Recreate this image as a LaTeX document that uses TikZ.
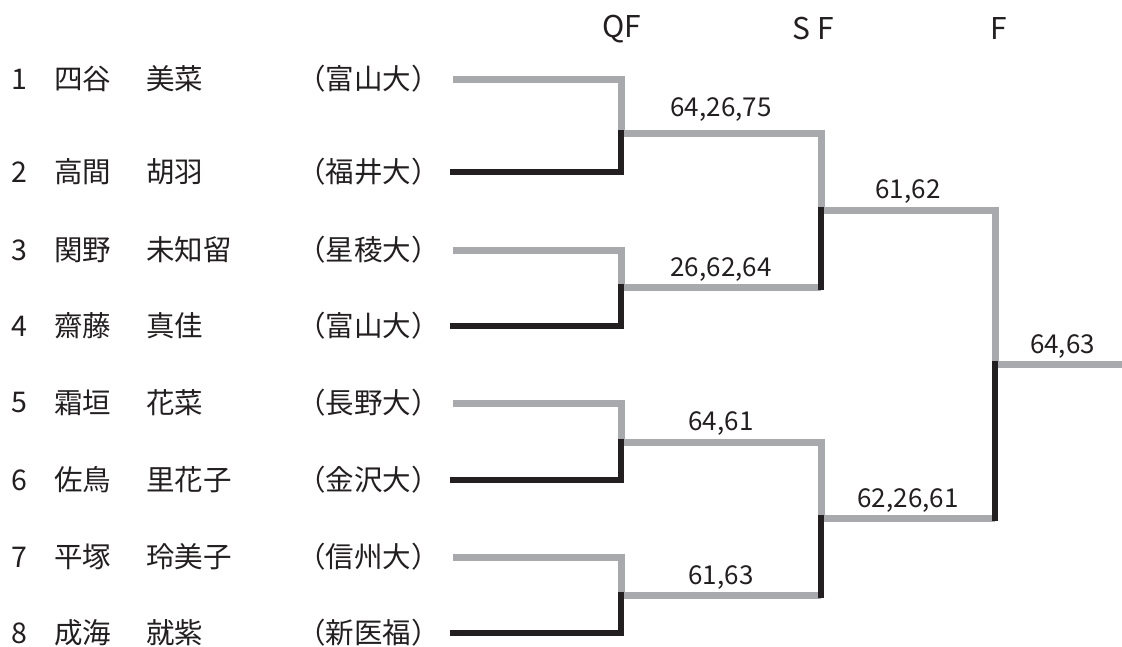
\documentclass[tikz,border=0pt]{standalone}
\usepackage{fontspec}
\setmainfont{Noto Sans CJK JP}
\newfontfamily\scorefont{Noto Sans CJK JP}
\usepackage{tikz}
\definecolor{brgrey}{RGB}{167,169,172}
\definecolor{brblack}{RGB}{35,31,32}
\tikzstyle{winner} = [line width=7pt, color=brgrey]
\tikzstyle{loser} = [line width=6pt, color=brblack, line cap=rect]
\tikzstyle{player} = [inner sep=0pt, text=brblack, font=\fontsize{28.5}{32}\selectfont]
\tikzstyle{score} = [inner sep=0pt, text=brblack, font=\scorefont\fontsize{26}{30}\selectfont]
\tikzstyle{roundlabel} = [inner sep=0pt, text=brblack, font=\fontsize{30}{34}\selectfont]

\begin{document}
\begin{tikzpicture}[x=1pt, y=-1pt]
\useasboundingbox (0,0) rectangle (1122,646);

% Round headings
\node[roundlabel] (hqf) at (622,29) {QF};
\node[roundlabel] (hsf) at (813,29) {S F};
\node[roundlabel] (hf) at (999,29) {F};

% Players
\node[player] (num1) at (19,79) {1};
\node[player, anchor=west] (fam1) at (54,79) {四谷};
\node[player, anchor=west] (giv1) at (146,79) {美菜};
\node[player, anchor=east] (uni1) at (440,79) {（富山大）};

\node[player] (num2) at (19,172) {2};
\node[player, anchor=west] (fam2) at (54,172) {高間};
\node[player, anchor=west] (giv2) at (146,172) {胡羽};
\node[player, anchor=east] (uni2) at (440,172) {（福井大）};

\node[player] (num3) at (19,250) {3};
\node[player, anchor=west] (fam3) at (54,250) {関野};
\node[player, anchor=west] (giv3) at (146,250) {未知留};
\node[player, anchor=east] (uni3) at (440,250) {（星稜大）};

\node[player] (num4) at (19,326) {4};
\node[player, anchor=west] (fam4) at (54,326) {齋藤};
\node[player, anchor=west] (giv4) at (146,326) {真佳};
\node[player, anchor=east] (uni4) at (440,326) {（富山大）};

\node[player] (num5) at (19,403) {5};
\node[player, anchor=west] (fam5) at (54,403) {霜垣};
\node[player, anchor=west] (giv5) at (146,403) {花菜};
\node[player, anchor=east] (uni5) at (440,403) {（長野大）};

\node[player] (num6) at (19,480) {6};
\node[player, anchor=west] (fam6) at (54,480) {佐鳥};
\node[player, anchor=west] (giv6) at (146,480) {里花子};
\node[player, anchor=east] (uni6) at (440,480) {（金沢大）};

\node[player] (num7) at (19,557) {7};
\node[player, anchor=west] (fam7) at (54,557) {平塚};
\node[player, anchor=west] (giv7) at (146,557) {玲美子};
\node[player, anchor=east] (uni7) at (440,557) {（信州大）};

\node[player] (num8) at (19,633) {8};
\node[player, anchor=west] (fam8) at (54,633) {成海};
\node[player, anchor=west] (giv8) at (146,633) {就紫};
\node[player, anchor=east] (uni8) at (440,633) {（新医福）};

% Bracket points
\coordinate (p1) at (453,79);
\coordinate (p2) at (453,172);
\coordinate (p3) at (453,250);
\coordinate (p4) at (453,326);
\coordinate (p5) at (453,403);
\coordinate (p6) at (453,480);
\coordinate (p7) at (453,557);
\coordinate (p8) at (453,633);
\coordinate (qf1) at (621,133);
\coordinate (qf2) at (621,287);
\coordinate (qf3) at (621,442);
\coordinate (qf4) at (621,595);
\coordinate (sf1) at (821,210);
\coordinate (sf2) at (821,518);
\coordinate (fin) at (995,364);
\coordinate (champ) at (1122,364);

% Winners
\draw[winner] (p1) -| (qf1) -| (sf1) -| (fin) -- (champ);
\draw[winner] (p3) -| (qf2) -- (qf2 -| sf1);
\draw[winner] (p5) -| (qf3) -| (sf2) -- (sf2 -| fin);
\draw[winner] (p7) -| (qf4) -- (qf4 -| sf2);

% Losers
\draw[loser] (p2) -| (qf1);
\draw[loser] (p4) -| (qf2);
\draw[loser] (p6) -| (qf3);
\draw[loser] (p8) -| (qf4);
\draw[loser] (qf2 -| sf1) -- (sf1);
\draw[loser] (qf4 -| sf2) -- (sf2);
\draw[loser] (sf2 -| fin) -- (fin);

% Scores
\path (qf1) -- (qf1 -| sf1) node[score, midway, yshift=23pt] (sc1) {64,26,75};
\path (qf2) -- (qf2 -| sf1) node[score, midway, yshift=17pt] (sc2) {26,62,64};
\path (qf3) -- (qf3 -| sf2) node[score, midway, yshift=18pt] (sc3) {64,61};
\path (qf4) -- (qf4 -| sf2) node[score, midway, yshift=17pt] (sc4) {61,63};
\path (sf1) -- (sf1 -| fin) node[score, midway, yshift=18pt] (sc5) {61,62};
\path (sf2) -- (sf2 -| fin) node[score, midway, yshift=17pt] (sc6) {62,26,61};
\path (fin) -- (champ) node[score, midway, xshift=4pt, yshift=17pt] (sc7) {64,63};
\end{tikzpicture}
\end{document}
